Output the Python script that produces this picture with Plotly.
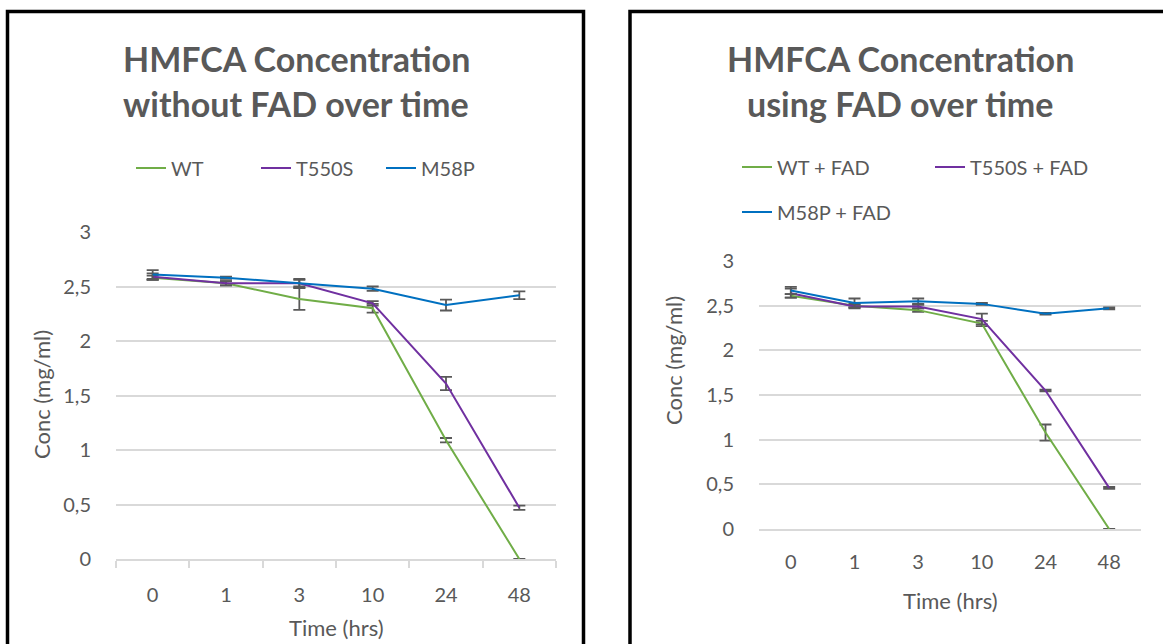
import plotly.graph_objects as go

W, H = 1163, 644

time_labels = ["0", "1", "3", "10", "24", "48"]

# Left panel: without FAD
wt = [2.58, 2.53, 2.385, 2.30, 1.09, 0.0]
wt_err = [0.02, 0.02, 0.10, 0.04, 0.02, 0.0]
t550s = [2.59, 2.53, 2.53, 2.345, 1.61, 0.47]
t550s_err = [0.03, 0.02, 0.03, 0.02, 0.06, 0.02]
m58p = [2.61, 2.58, 2.53, 2.48, 2.33, 2.42]
m58p_err = [0.04, 0.01, 0.04, 0.02, 0.05, 0.035]

# Right panel: with FAD
wt_fad = [2.61, 2.50, 2.45, 2.30, 1.08, 0.0]
wt_fad_err = [0.02, 0.02, 0.02, 0.03, 0.09, 0.0]
t550s_fad = [2.64, 2.49, 2.49, 2.35, 1.55, 0.46]
t550s_fad_err = [0.05, 0.02, 0.02, 0.06, 0.01, 0.01]
m58p_fad = [2.67, 2.53, 2.55, 2.52, 2.41, 2.47]
m58p_fad_err = [0.04, 0.05, 0.03, 0.01, 0.01, 0.01]

GREEN, PURPLE, BLUE = "#70AD47", "#7030A0", "#0070C0"
TXT = "#595959"
GRID = "#D9D9D9"
FONT = "Lato"


def px(x):
    return x / W


def py(y):
    return 1 - y / H


def trace(y, err, name, color, xa, ya, legend):
    return go.Scatter(
        x=time_labels, y=y, name=name, mode="lines",
        line=dict(color=color, width=2),
        error_y=dict(type="data", array=err, visible=True, color=TXT, thickness=1.8, width=6),
        xaxis=xa, yaxis=ya, legend=legend,
    )


fig = go.Figure()
fig.add_trace(trace(wt, wt_err, "WT", GREEN, "x", "y", "legend"))
fig.add_trace(trace(t550s, t550s_err, "T550S", PURPLE, "x", "y", "legend"))
fig.add_trace(trace(m58p, m58p_err, "M58P", BLUE, "x", "y", "legend"))
fig.add_trace(trace(wt_fad, wt_fad_err, "WT + FAD", GREEN, "x2", "y2", "legend2"))
fig.add_trace(trace(t550s_fad, t550s_fad_err, "T550S + FAD", PURPLE, "x2", "y2", "legend2"))
fig.add_trace(trace(m58p_fad, m58p_fad_err, "M58P + FAD", BLUE, "x2", "y2", "legend3"))

tick_font = dict(family=FONT, size=20, color=TXT)

xcommon = dict(type="category", range=[-0.5, 5.5], showgrid=False, zeroline=False,
               tickfont=tick_font, showline=True, linecolor=GRID, linewidth=1.5,
               automargin=False)
ycommon = dict(range=[0, 3], dtick=0.5, tick0=0, showgrid=True, gridcolor=GRID, gridwidth=1.5,
               zeroline=False, showline=False, tickfont=tick_font, automargin=False,
               ticks="outside", ticklen=20, tickcolor="rgba(0,0,0,0)")

legend_font = dict(family=FONT, size=20, color=TXT)

fig.update_layout(
    width=W, height=H,
    margin=dict(l=0, r=0, t=0, b=0, pad=0, autoexpand=False),
    paper_bgcolor="white", plot_bgcolor="white",
    separators=", ",
    font=dict(family=FONT, color=TXT),
    xaxis=dict(domain=[px(116), px(556)], anchor="y", ticks="outside", tickson="boundaries",
               ticklen=7, tickcolor=GRID, tickwidth=1.5, ticklabelstandoff=17, **xcommon),
    yaxis=dict(domain=[py(559), py(232)], anchor="x", **ycommon),
    xaxis2=dict(domain=[px(759), px(1141)], anchor="y2", ticks="outside", ticklen=14,
                tickcolor="rgba(0,0,0,0)", **xcommon),
    yaxis2=dict(domain=[py(529), py(261)], anchor="x2", **ycommon),
    showlegend=True,
    legend=dict(orientation="h", x=px(131), y=py(168), xanchor="left", yanchor="middle",
                entrywidth=80, font=legend_font, bgcolor="rgba(0,0,0,0)"),
    legend2=dict(orientation="h", x=px(737), y=py(167), xanchor="left", yanchor="middle",
                 entrywidth=148, font=legend_font, bgcolor="rgba(0,0,0,0)"),
    legend3=dict(orientation="h", x=px(737), y=py(212), xanchor="left", yanchor="middle",
                 font=legend_font, bgcolor="rgba(0,0,0,0)"),
)

# panel borders
for x0, x1 in [(7.5, 583.5), (630, 1175)]:
    fig.add_shape(type="rect", xref="paper", yref="paper",
                  x0=px(x0), x1=px(x1), y0=py(660), y1=py(11.5),
                  line=dict(color="black", width=3.5), fillcolor="rgba(0,0,0,0)")

title_font = dict(family=FONT, size=34, color=TXT)
annotations = [
    dict(text="<b>HMFCA Concentration</b>", x=px(296), y=py(59)),
    dict(text="<b>without FAD over time</b>", x=px(296), y=py(104)),
    dict(text="<b>HMFCA Concentration</b>", x=px(900), y=py(59)),
    dict(text="<b>using FAD over time</b>", x=px(900), y=py(104)),
]
for a in annotations:
    fig.add_annotation(xref="paper", yref="paper", showarrow=False, xanchor="center",
                       yanchor="middle", font=title_font, **a)

axis_font = dict(family=FONT, size=22, color=TXT)
axis_titles = [
    dict(text="Conc (mg/ml)", x=px(41), y=py(395), textangle=-90),
    dict(text="Conc (mg/ml)", x=px(673), y=py(361), textangle=-90),
    dict(text="Time (hrs)", x=px(336), y=py(627)),
    dict(text="Time (hrs)", x=px(950), y=py(600)),
]
for a in axis_titles:
    fig.add_annotation(xref="paper", yref="paper", showarrow=False, xanchor="center",
                       yanchor="middle", font=axis_font, **a)

fig.write_html("out.html")
